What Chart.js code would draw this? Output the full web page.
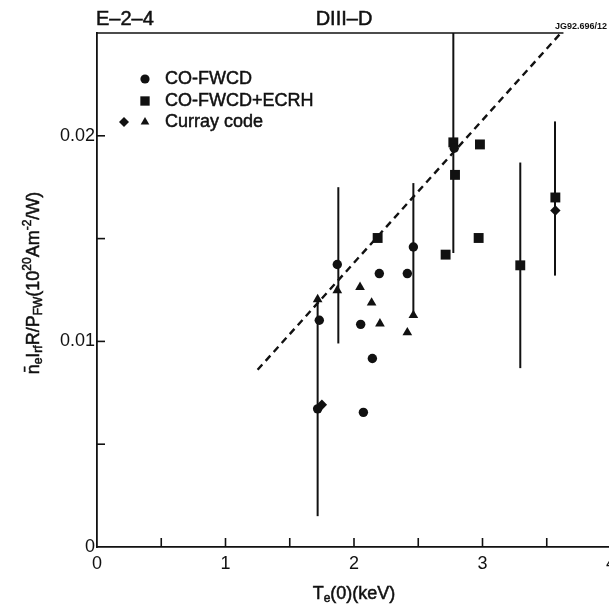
<!DOCTYPE html>
<html>
<head>
<meta charset="utf-8">
<script src="https://cdn.jsdelivr.net/npm/chart.js@4.4.1/dist/chart.umd.min.js"></script>
<style>
  html, body { margin: 0; padding: 0; background: #fff; overflow: hidden; }
  #wrap { width: 609px; height: 609px; overflow: hidden; position: relative; }
  canvas { display: block; }
</style>
</head>
<body>
<div id="wrap"><canvas id="c" width="640" height="609"></canvas></div>
<script>
// ---------------- data ----------------
const seriesNames = ['CO-FWCD', 'CO-FWCD+ECRH', 'Curray code'];

// CO-FWCD (circles)
const fwcdX = [1.717, 1.730, 1.870, 2.052, 2.073, 2.143, 2.197, 2.415, 2.462, 2.780];
const fwcdY = [0.00672, 0.01103, 0.01374, 0.01083, 0.00655, 0.00917, 0.01330, 0.01330, 0.01459, 0.01940];

// CO-FWCD+ECRH (squares)
const ecrhX = [2.184, 2.713, 2.773, 2.786, 2.980, 2.970, 3.294, 3.567];
const ecrhY = [0.01503, 0.01422, 0.01968, 0.01810, 0.01958, 0.01503, 0.01370, 0.01700];

// Curray code (diamonds and triangles)
const currayDiamondX = [1.750, 3.567];
const currayDiamondY = [0.00692, 0.01637];
const currayTriX = [1.717, 1.870, 2.047, 2.137, 2.202, 2.415, 2.462];
const currayTriY = [0.01204, 0.01248, 0.01264, 0.01188, 0.01086, 0.01043, 0.01127];

// vertical error bars
const errX  = [1.717, 1.878, 2.462, 2.773, 3.294, 3.564];
const errLo = [0.0015, 0.0099, 0.0113, 0.0143, 0.0087, 0.0132];
const errHi = [0.0120, 0.0175, 0.0177, 0.0250, 0.0187, 0.0207];

// dashed trend line end points
const trendX = [1.25, 3.61];
const trendY = [0.00862, 0.0250];

// axes
const xTickLabels = ['0', '1', '2', '3', '4'];
const yTickLabels = ['0', '0.01', '0.02'];
const yLabelValues = [0, 0.01, 0.02];

// ---------------- helpers ----------------
const zip = (xs, ys) => xs.map((x, i) => ({ x: x, y: ys[i] }));
const FONT = '"Liberation Sans", Arial, Helvetica, sans-serif';
const INK = '#111';

const datasets = [
  { type: 'scatter', label: seriesNames[0], data: zip(fwcdX, fwcdY), pointStyle: 'circle', pointRadius: 4.7, backgroundColor: INK, borderWidth: 0 },
  { type: 'scatter', label: seriesNames[1], data: zip(ecrhX, ecrhY), pointStyle: 'rect', pointRadius: 7, backgroundColor: INK, borderWidth: 0 },
  { type: 'scatter', label: seriesNames[2], data: zip(currayDiamondX, currayDiamondY), pointStyle: 'rectRot', pointRadius: 5.2, backgroundColor: INK, borderWidth: 0 },
  { type: 'scatter', label: seriesNames[2] + ' ', data: zip(currayTriX, currayTriY), pointStyle: 'triangle', pointRadius: 5.6, backgroundColor: INK, borderWidth: 0 },
  { type: 'line', label: 'trend', data: zip(trendX, trendY), borderColor: INK, borderWidth: 2.4, borderDash: [7, 5], pointRadius: 0, fill: false, tension: 0 },
];
errX.forEach((x, i) => {
  datasets.push({ type: 'line', label: 'err' + i, data: [{ x: x, y: errLo[i] }, { x: x, y: errHi[i] }],
    borderColor: INK, borderWidth: 2, pointRadius: 0, fill: false });
});
// top frame line (stops where the trend line meets it)
datasets.push({ type: 'line', label: 'frame', data: [{ x: 0, y: 0.025 }, { x: trendX[1] + 0.02, y: 0.025 }],
  borderColor: INK, borderWidth: 1.6, pointRadius: 0, fill: false, clip: false });

function heavyText(ctx, t, x, y) {
  ctx.fillText(t, x, y);
  ctx.strokeText(t, x, y);
}

function richText(ctx, parts, cx, cy, rotate) {
  ctx.save();
  ctx.translate(cx, cy);
  if (rotate) ctx.rotate(-Math.PI / 2);
  let total = 0;
  parts.forEach(p => { ctx.font = p.size + 'px ' + FONT; p.w = ctx.measureText(p.t).width; total += p.w; });
  let x = -total / 2;
  ctx.textBaseline = 'middle';
  ctx.textAlign = 'left';
  ctx.fillStyle = INK;
  ctx.strokeStyle = INK;
  ctx.lineWidth = 0.5;
  parts.forEach(p => { ctx.font = p.size + 'px ' + FONT; heavyText(ctx, p.t, x, p.dy || 0); x += p.w; });
  ctx.restore();
}

const decor = {
  id: 'decor',
  afterDraw(chart) {
    const ctx = chart.ctx;
    const xs = chart.scales.x, ys = chart.scales.y;
    ctx.save();
    ctx.strokeStyle = INK;
    ctx.lineWidth = 1.6;
    // inward tick marks
    xs.ticks.forEach(t => {
      if (t.value === 0) return;
      const px = xs.getPixelForValue(t.value);
      ctx.beginPath(); ctx.moveTo(px, ys.bottom); ctx.lineTo(px, ys.bottom - 9); ctx.stroke();
    });
    ys.ticks.forEach(t => {
      if (t.value === 0 || t.value >= 0.0249) return;
      const py = ys.getPixelForValue(t.value);
      ctx.beginPath(); ctx.moveTo(xs.left, py); ctx.lineTo(xs.left + 8, py); ctx.stroke();
    });

    // legend
    const lx = 145, lyc = [79, 101, 122];
    ctx.fillStyle = INK;
    Chart.helpers.drawPoint(ctx, { pointStyle: 'circle', radius: 4.6, borderWidth: 0 }, lx, lyc[0]);
    Chart.helpers.drawPoint(ctx, { pointStyle: 'rect', radius: 6.6, borderWidth: 0 }, lx, lyc[1]);
    Chart.helpers.drawPoint(ctx, { pointStyle: 'rectRot', radius: 5, borderWidth: 0 }, lx - 21, lyc[2]);
    Chart.helpers.drawPoint(ctx, { pointStyle: 'triangle', radius: 5, borderWidth: 0 }, lx, lyc[2]);
    ctx.lineWidth = 0.5;
    ctx.font = '18px ' + FONT;
    ctx.textBaseline = 'middle';
    ctx.textAlign = 'left';
    seriesNames.forEach((n, i) => heavyText(ctx, n, 165, lyc[i]));

    // header texts
    ctx.font = '20px ' + FONT;
    ctx.textBaseline = 'middle';
    heavyText(ctx, 'E–2–4', 96, 19);
    ctx.textAlign = 'center';
    heavyText(ctx, 'DIII–D', 344, 19);
    ctx.font = 'bold 9px ' + FONT;
    ctx.textAlign = 'left';
    ctx.fillText('JG92.696/12', 555, 27);

    // axis titles
    richText(ctx, [
      { t: 'T', size: 18 }, { t: 'e', size: 12, dy: 5 }, { t: '(0)(keV)', size: 18 }
    ], xs.getPixelForValue(2), 594, false);
    richText(ctx, [
      { t: 'n\u0304', size: 18 }, { t: 'e', size: 12, dy: 5 }, { t: 'I', size: 18 }, { t: 'rf', size: 12, dy: 5 },
      { t: 'R/P', size: 18 }, { t: 'FW', size: 12, dy: 5 }, { t: '(10', size: 18 }, { t: '20', size: 12, dy: -6 },
      { t: 'Am', size: 18 }, { t: '-2', size: 12, dy: -6 }, { t: '/W)', size: 18 }
    ], 34, 283, true);
    ctx.restore();
  }
};

new Chart(document.getElementById('c'), {
  data: { datasets: datasets },
  options: {
    responsive: false,
    animation: false,
    events: [],
    layout: { padding: { top: 33, right: 29, bottom: 0, left: 0 } },
    plugins: { legend: { display: false }, tooltip: { enabled: false }, title: { display: false } },
    scales: {
      x: {
        type: 'linear', min: 0, max: 4,
        afterFit: s => { s.height = 62; },
        grid: { display: true, drawOnChartArea: false, drawTicks: false },
        border: { display: true, color: INK, width: 1.8 },
        ticks: {
          stepSize: 0.5, padding: 6, color: INK, font: { family: FONT, size: 18 }, maxRotation: 0, autoSkip: false,
          callback: v => (Math.abs(v - Math.round(v)) < 1e-9 ? xTickLabels[Math.round(v)] : '')
        }
      },
      y: {
        type: 'linear', min: 0, max: 0.025,
        afterFit: s => { s.width = 97; },
        grid: { display: true, drawOnChartArea: false, drawTicks: false },
        border: { display: true, color: INK, width: 1.8 },
        ticks: {
          stepSize: 0.005, padding: 2, color: INK, font: { family: FONT, size: 18 }, autoSkip: false,
          callback: v => {
            const k = yLabelValues.findIndex(q => Math.abs(q - v) < 1e-9);
            return k >= 0 ? yTickLabels[k] : '';
          }
        }
      }
    }
  },
  plugins: [decor]
});
</script>
</body>
</html>
